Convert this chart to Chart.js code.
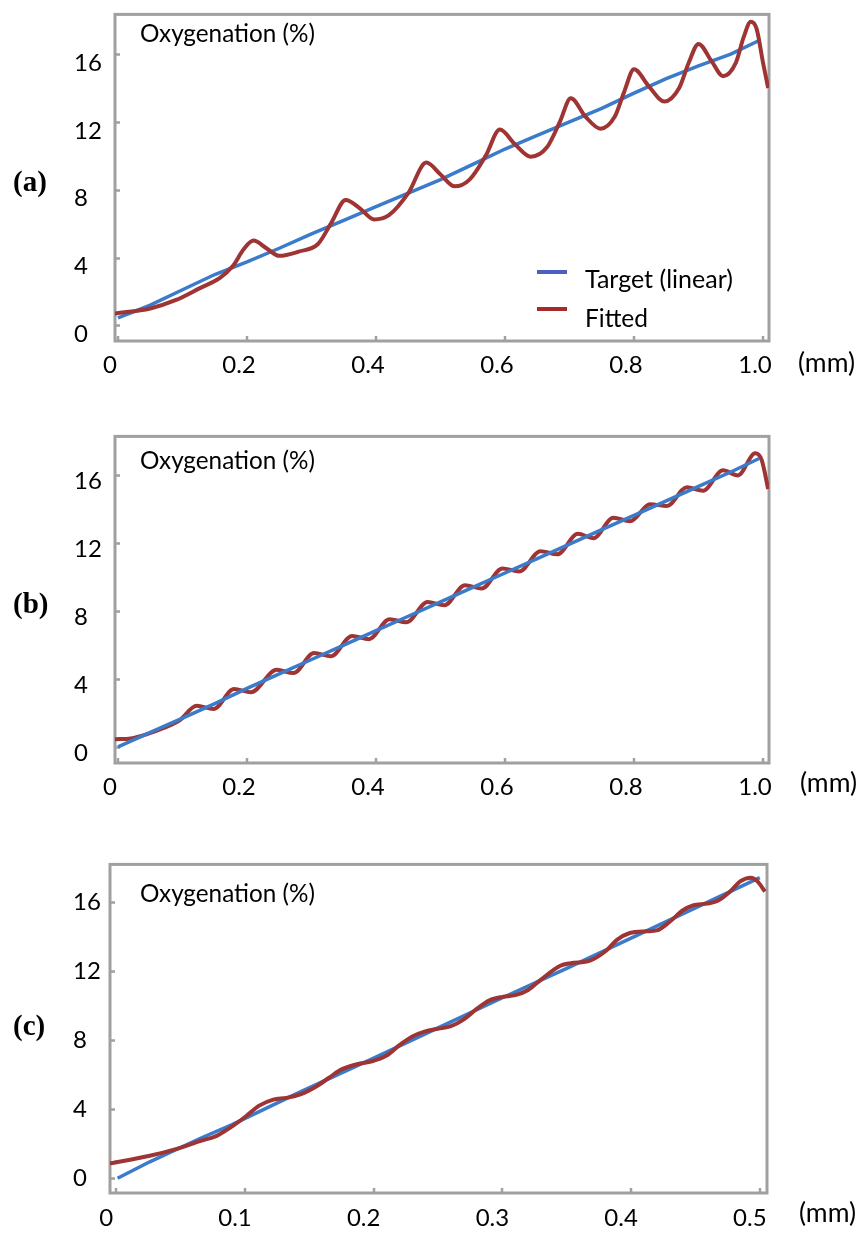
<!DOCTYPE html>
<html><head><meta charset="utf-8">
<script src="https://cdn.jsdelivr.net/npm/chart.js@4.4.1/dist/chart.umd.min.js"></script>
<style>
html,body{margin:0;padding:0;background:#fff;}
body{width:861px;height:1235px;overflow:hidden;position:relative;}
canvas{position:absolute;left:0;}
.t{position:absolute;white-space:nowrap;font-family:Lato,sans-serif;font-size:24px;color:#000;line-height:1.2;}
.lab{font-family:'Liberation Serif',serif;font-weight:bold;font-size:29px;}
.sw{position:absolute;height:4px;width:30px;}
</style></head><body>
<canvas id="ca" width="861" height="400" style="top:0px"></canvas>
<canvas id="cb" width="861" height="400" style="top:422px"></canvas>
<canvas id="cc" width="861" height="385" style="top:850px"></canvas>
<script>
// ---- tick values / labels ----
const yTickValues = [0, 4, 8, 12, 16];
const yTickLabels = ['0', '4', '8', '12', '16'];
const xTickValuesAB = [0, 0.2, 0.4, 0.6, 0.8, 1.0];
const xTickLabelsAB = ['0', '0.2', '0.4', '0.6', '0.8', '1.0'];
const xTickValuesC = [0, 0.1, 0.2, 0.3, 0.4, 0.5];
const xTickLabelsC = ['0', '0.1', '0.2', '0.3', '0.4', '0.5'];
const seriesNames = ['Target (linear)', 'Fitted'];

// ---- panel (a) ----
const aTargetX = [0, 0.05, 0.1, 0.15, 0.2, 0.25, 0.3, 0.35, 0.4, 0.45, 0.5, 0.55, 0.6, 0.65, 0.7, 0.75, 0.8, 0.85, 0.9, 0.95, 0.994];
const aTargetY = [0.45, 1.2, 2.1, 3.0, 3.75, 4.55, 5.4, 6.2, 7.0, 7.8, 8.6, 9.5, 10.4, 11.2, 12.0, 12.8, 13.7, 14.55, 15.3, 16.0, 16.8];
const aFittedX = [-0.005, 0.05, 0.09, 0.127, 0.158, 0.178, 0.195, 0.21, 0.23, 0.25, 0.28, 0.31, 0.33, 0.353, 0.375, 0.397, 0.42, 0.45, 0.478, 0.5, 0.522, 0.545, 0.57, 0.592, 0.615, 0.64, 0.665, 0.685, 0.702, 0.725, 0.748, 0.77, 0.785, 0.8, 0.823, 0.847, 0.87, 0.885, 0.9, 0.92, 0.938, 0.958, 0.97, 0.981, 0.99, 1.0, 1.008];
const aFittedY = [0.7, 1.0, 1.5, 2.2, 2.8, 3.5, 4.5, 5.0, 4.55, 4.1, 4.35, 4.8, 6.0, 7.4, 6.9, 6.25, 6.5, 7.8, 9.6, 8.9, 8.2, 8.6, 10.0, 11.55, 10.7, 9.95, 10.5, 12.0, 13.4, 12.3, 11.6, 12.3, 13.8, 15.1, 14.1, 13.2, 14.0, 15.5, 16.6, 15.6, 14.7, 15.5, 17.0, 17.9, 17.5, 15.5, 14.0];

// ---- panel (b) ----
const bTargetX = [0, 0.05, 0.1, 0.15, 0.2, 0.25, 0.3, 0.35, 0.4, 0.45, 0.5, 0.55, 0.6, 0.65, 0.7, 0.75, 0.8, 0.85, 0.9, 0.95, 0.994];
const bTargetY = [0.0, 0.85, 1.7, 2.55, 3.45, 4.3, 5.15, 6.0, 6.85, 7.7, 8.55, 9.4, 10.25, 11.1, 11.95, 12.8, 13.65, 14.5, 15.35, 16.2, 17.0];
const bFittedX = [-0.005, 0.02, 0.045, 0.07, 0.095, 0.122, 0.148, 0.18, 0.206, 0.246, 0.272, 0.304, 0.33, 0.363, 0.389, 0.421, 0.447, 0.48, 0.506, 0.538, 0.564, 0.596, 0.622, 0.655, 0.681, 0.713, 0.737, 0.768, 0.794, 0.825, 0.851, 0.882, 0.907, 0.938, 0.961, 0.988, 0.998, 1.008];
const bFittedY = [0.45, 0.5, 0.75, 1.1, 1.55, 2.42, 2.23, 3.41, 3.22, 4.54, 4.35, 5.53, 5.34, 6.54, 6.35, 7.53, 7.34, 8.54, 8.35, 9.53, 9.34, 10.52, 10.34, 11.53, 11.35, 12.56, 12.3, 13.5, 13.3, 14.3, 14.2, 15.3, 15.1, 16.3, 16.0, 17.3, 16.9, 15.2];

// ---- panel (c) ----
const cTargetX = [0.001, 0.026, 0.065, 0.09, 0.143, 0.2, 0.25, 0.3, 0.35, 0.4, 0.45, 0.5];
const cTargetY = [0.0, 0.95, 2.3, 3.1, 5.0, 6.95, 8.7, 10.45, 12.15, 13.9, 15.65, 17.4];
const cFittedX = [-0.005, 0.026, 0.047, 0.065, 0.078, 0.09, 0.101, 0.111, 0.122, 0.132, 0.143, 0.155, 0.165, 0.175, 0.187, 0.2, 0.21, 0.22, 0.23, 0.24, 0.25, 0.26, 0.27, 0.28, 0.29, 0.3, 0.31, 0.32, 0.33, 0.345, 0.353, 0.368, 0.381, 0.389, 0.399, 0.412, 0.42, 0.43, 0.44, 0.448, 0.459, 0.467, 0.477, 0.485, 0.493, 0.498, 0.504];
const cFittedY = [0.86, 1.3, 1.7, 2.15, 2.45, 3.0, 3.6, 4.2, 4.55, 4.65, 4.85, 5.3, 5.8, 6.3, 6.6, 6.8, 7.1, 7.7, 8.2, 8.5, 8.65, 8.8, 9.2, 9.8, 10.3, 10.5, 10.6, 10.9, 11.5, 12.3, 12.45, 12.6, 13.2, 13.8, 14.2, 14.3, 14.35, 14.85, 15.5, 15.8, 15.9, 16.05, 16.6, 17.2, 17.4, 17.2, 16.6];

const BLUE = '#3b7bcb';
const RED = '#9e3433';
const FRAME = '#a0a0a0';
const FONT = {family: 'Lato', size: 24};

const xy = (xs, ys) => xs.map((x, i) => ({x: x, y: ys[i]}));

const framePlugin = {
  id: 'frame',
  beforeDatasetsDraw(chart) {
    const {ctx, chartArea: a, scales} = chart;
    ctx.save();
    ctx.strokeStyle = FRAME;
    ctx.lineWidth = 3;
    ctx.strokeRect(a.left, a.top, a.right - a.left, a.bottom - a.top);
    ctx.lineWidth = 2.5;
    ctx.beginPath();
    scales.y.ticks.forEach(t => {
      const py = Math.round(scales.y.getPixelForValue(t.value)) + 0.5;
      ctx.moveTo(a.left, py); ctx.lineTo(a.left + 5, py);
    });
    scales.x.ticks.forEach(t => {
      const px = Math.round(scales.x.getPixelForValue(t.value));
      ctx.moveTo(px, a.bottom); ctx.lineTo(px, a.bottom - 5);
    });
    ctx.stroke();
    ctx.restore();
  }
};

function makeChart(id, c) {
  return new Chart(document.getElementById(id), {
    type: 'line',
    data: {datasets: [
      {label: seriesNames[0], data: xy(c.tx, c.ty), borderColor: BLUE, borderWidth: 3.5, pointRadius: 0, tension: 0, order: c.blueOrder, fill: false},
      {label: seriesNames[1], data: xy(c.fx, c.fy), borderColor: RED, borderWidth: 4, pointRadius: 0, cubicInterpolationMode: 'monotone', order: c.redOrder, fill: false}
    ]},
    options: {
      responsive: false, animation: false, devicePixelRatio: 1,
      layout: {padding: {left: c.padL, right: c.padR, top: c.padT, bottom: 0}},
      plugins: {legend: {display: false}, tooltip: {enabled: false}, title: {display: false}},
      scales: {
        x: {
          type: 'linear', min: c.xMin, max: c.xMax,
          grid: {display: false, drawTicks: false}, border: {display: false},
          afterBuildTicks: s => { s.ticks = c.xTicks.map(v => ({value: v})); },
          afterFit: s => { s.height = c.xH; },
          ticks: {callback: (v, i) => c.xLabels[i], font: FONT, color: '#000', padding: c.xPad, labelOffset: c.xLabOff, maxRotation: 0, autoSkip: false}
        },
        y: {
          type: 'linear', min: c.yMin, max: c.yMax,
          grid: {display: false, drawTicks: false}, border: {display: false},
          afterBuildTicks: s => { s.ticks = yTickValues.map(v => ({value: v})); },
          afterFit: s => { s.width = c.yW; },
          ticks: {callback: (v, i) => yTickLabels[i], font: FONT, color: '#000', padding: 0, crossAlign: 'far', labelOffset: c.yLabOff, autoSkip: false}
        }
      }
    },
    plugins: [framePlugin]
  });
}

makeChart('ca', {tx: aTargetX, ty: aTargetY, fx: aFittedX, fy: aFittedY, blueOrder: 2, redOrder: 1,
  padL: 74, padR: 92, padT: 6, xH: 59, yW: 41, xMin: -0.0047, xMax: 1.0093, yMin: -0.92, yMax: 18.34,
  xTicks: xTickValuesAB, xLabels: xTickLabelsAB, xPad: 10, xLabOff: -8, yLabOff: 9});
makeChart('cb', {tx: bTargetX, ty: bTargetY, fx: bFittedX, fy: bFittedY, blueOrder: 1, redOrder: 2,
  padL: 74, padR: 92, padT: 6, xH: 59, yW: 41, xMin: -0.0047, xMax: 1.0093, yMin: -0.95, yMax: 18.3,
  xTicks: xTickValuesAB, xLabels: xTickLabelsAB, xPad: 10, xLabOff: -8, yLabOff: 6});
makeChart('cc', {tx: cTargetX, ty: cTargetY, fx: cFittedX, fy: cFittedY, blueOrder: 2, redOrder: 1,
  padL: 73, padR: 94, padT: 10, xH: 42, yW: 37, xMin: -0.0049, xMax: 0.5056, yMin: -0.857, yMax: 18.17,
  xTicks: xTickValuesC, xLabels: xTickLabelsC, xPad: 11, xLabOff: -10, yLabOff: 0});

// ---- text annotations (real HTML text), sized to the reference widths ----
function placeText(text, x, baseline, width, cls) {
  const d = document.createElement('div');
  d.className = 't' + (cls ? ' ' + cls : '');
  d.style.left = x + 'px'; d.style.top = '0px';
  const s = document.createElement('span'); s.textContent = text;
  const p = document.createElement('span');
  p.style.cssText = 'display:inline-block;width:0;height:0;vertical-align:baseline;';
  d.appendChild(s); d.appendChild(p);
  document.body.appendChild(d);
  if (width) {
    const fs = parseFloat(getComputedStyle(d).fontSize);
    const w = s.getBoundingClientRect().width;
    d.style.fontSize = (fs * width / w).toFixed(2) + 'px';
  }
  d.style.top = (baseline - p.offsetTop) + 'px';
}
function swatch(x, y, color) {
  const d = document.createElement('div');
  d.className = 'sw'; d.style.left = x + 'px'; d.style.top = (y - 2) + 'px'; d.style.background = color;
  document.body.appendChild(d);
}
const axisTitle = 'Oxygenation (%)';
const unitLabel = '(mm)';
const panelLabels = ['(a)', '(b)', '(c)'];

placeText(axisTitle, 140, 42, 175);
placeText(axisTitle, 140, 469, 175);
placeText(axisTitle, 140, 902, 175);
placeText(unitLabel, 798, 372, 57);
placeText(unitLabel, 800, 792, 57);
placeText(unitLabel, 799, 1222, 57);
placeText(panelLabels[0], 13, 191, 0, 'lab');
placeText(panelLabels[1], 13, 613, 0, 'lab');
placeText(panelLabels[2], 13, 1035, 0, 'lab');
swatch(537, 272, '#4a5fc1');
swatch(537, 309, '#a52a2a');
placeText(seriesNames[0], 585, 288, 148);
placeText(seriesNames[1], 585, 327, 63);
</script>
</body></html>
